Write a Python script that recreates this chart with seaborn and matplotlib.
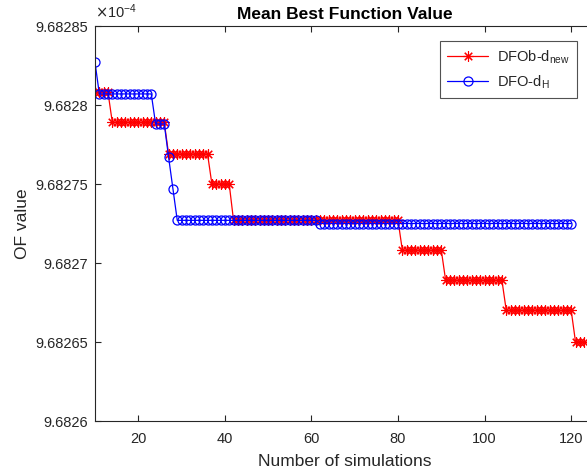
import numpy as np
import matplotlib
matplotlib.use('Agg')
from matplotlib import pyplot as plt
from matplotlib.ticker import FuncFormatter
import seaborn as sns
import pandas as pd

# step levels (units of 1e-4) and how many simulations each lasts
red_levels = [9.682808, 9.682789, 9.682769, 9.682750, 9.682727,
              9.682708, 9.682689, 9.682670, 9.682650]
red_runs = [4, 13, 10, 5, 39, 10, 14, 16, 3]

blue_levels = [9.682827, 9.682807, 9.682788, 9.682767, 9.682747, 9.682727, 9.682725]
blue_runs = [1, 13, 3, 1, 1, 33, 59]

start_sim = 10
y_ticks = [9.6826, 9.68265, 9.6827, 9.68275, 9.6828, 9.68285]
x_ticks = [20, 40, 60, 80, 100, 120]

red_y = np.repeat(red_levels, red_runs)
blue_y = np.repeat(blue_levels, blue_runs)
df_red = pd.DataFrame({'sim': np.arange(start_sim, start_sim + len(red_y)), 'val': red_y})
df_blue = pd.DataFrame({'sim': np.arange(start_sim, start_sim + len(blue_y)), 'val': blue_y})

sns.set_style('ticks')
plt.rcParams['font.family'] = ['Liberation Sans', 'DejaVu Sans']
dark = '#262626'

fig = plt.figure(figsize=(5.87, 4.76), dpi=100)
ax = fig.add_axes([95 / 587, 55 / 476, 500 / 587, 395 / 476])

# matlab-like '*' marker = plus and cross together
star = (8, 2, 0)
sns.lineplot(data=df_red, x='sim', y='val', ax=ax, color='red', lw=0.9,
             marker=star, markersize=7.5, markeredgewidth=0.8, markeredgecolor='red',
             label=r'DFOb-d$_{\mathregular{new}}$')
sns.lineplot(data=df_blue, x='sim', y='val', ax=ax, color='blue', lw=0.9,
             marker='o', markersize=6.5, markerfacecolor='none', markeredgewidth=0.9,
             markeredgecolor='blue', label=r'DFO-d$_{\mathregular{H}}$')

ax.set_xlim(10, 125.5)
ax.set_ylim(9.6826, 9.68285)
ax.set_xticks(x_ticks)
ax.set_yticks(y_ticks)
ax.yaxis.set_major_formatter(FuncFormatter(lambda v, p: '%g' % round(v, 6)))
ax.tick_params(direction='in', length=4, width=0.8, colors=dark, labelsize=10.5,
               top=True, right=True, labeltop=False)
ax.tick_params(axis='x', pad=8)
ax.tick_params(axis='y', pad=5)
for s in ax.spines.values():
    s.set_color(dark)
    s.set_linewidth(0.8)
    s.set_visible(True)

ax.set_xlabel('Number of simulations', fontsize=12.5, color=dark, labelpad=6)
ax.set_ylabel('OF value', fontsize=12.5, color=dark, labelpad=4)
ax.set_title('Mean Best Function Value', fontsize=12.5, fontweight='bold', color='black', pad=5)
ax.text(0.0, 1.012, r'$\times\mathregular{10^{-4}}$', transform=ax.transAxes,
        fontsize=10.5, color=dark, ha='left', va='bottom')

leg = ax.legend(loc='upper right', bbox_to_anchor=(577 / 587, 1 - 41 / 476),
                bbox_transform=fig.transFigure, borderaxespad=0,
                fontsize=10.5, frameon=True, fancybox=False, handlelength=2.8,
                borderpad=0.5, labelspacing=0.5, handletextpad=0.6)
leg.get_frame().set_edgecolor(dark)
leg.get_frame().set_linewidth(0.8)

fig.savefig('out.png', dpi=100)
